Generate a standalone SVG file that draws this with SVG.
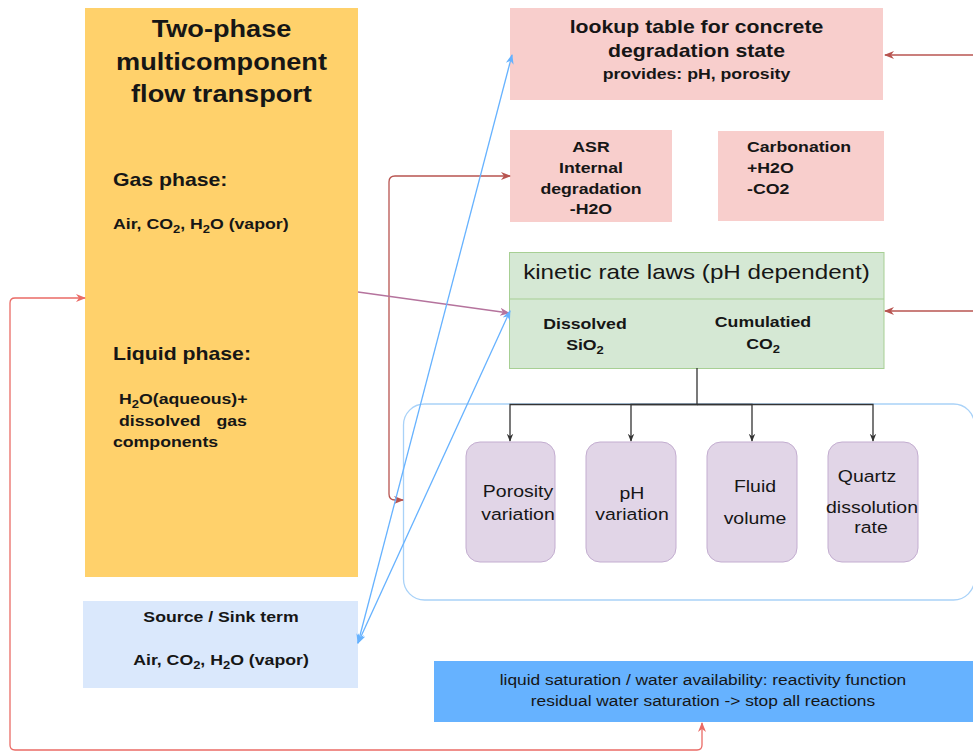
<svg xmlns="http://www.w3.org/2000/svg" width="973" height="751" viewBox="0 0 973 751">
<style>
text{font-family:"Liberation Sans",Arial,sans-serif;fill:#161616}
.b{font-weight:bold}
.m{text-anchor:middle}
.ln{fill:none;stroke-width:1.3}
</style>
<defs>
<marker id="aR" viewBox="0 0 10 10" refX="9" refY="5" markerWidth="10" markerHeight="10" orient="auto-start-reverse" markerUnits="userSpaceOnUse"><path d="M0,1 L10,5 L0,9 L3,5 Z" fill="#B85450"/></marker>
<marker id="aL" viewBox="0 0 10 10" refX="9" refY="5" markerWidth="10" markerHeight="10" orient="auto-start-reverse" markerUnits="userSpaceOnUse"><path d="M0,1 L10,5 L0,9 L3,5 Z" fill="#EA6B66"/></marker>
<marker id="aB" viewBox="0 0 10 10" refX="9" refY="5" markerWidth="10" markerHeight="10" orient="auto-start-reverse" markerUnits="userSpaceOnUse"><path d="M0,1 L10,5 L0,9 L3,5 Z" fill="#66B2FF"/></marker>
<marker id="aP" viewBox="0 0 10 10" refX="9" refY="5" markerWidth="10" markerHeight="10" orient="auto-start-reverse" markerUnits="userSpaceOnUse"><path d="M0,1 L10,5 L0,9 L3,5 Z" fill="#B5739D"/></marker>
<marker id="aK" viewBox="0 0 10 10" refX="9" refY="5" markerWidth="8" markerHeight="8" orient="auto" markerUnits="userSpaceOnUse"><path d="M0,1 L10,5 L0,9 L3,5 Z" fill="#333"/></marker>
</defs>

<g id="flow">
<rect x="85" y="8" width="273" height="569" fill="#FFD16B"/>
<text class="b m" font-size="23" x="221.5" y="37" transform="matrix(1.18 0 0 1 -39.87 0)">Two-phase</text>
<text class="b m" font-size="23" x="221.5" y="70" transform="matrix(1.18 0 0 1 -39.87 0)">multicomponent</text>
<text class="b m" font-size="23" x="221.5" y="102" transform="matrix(1.18 0 0 1 -39.87 0)">flow transport</text>
<text class="b" font-size="18" x="113" y="186" transform="matrix(1.18 0 0 1 -20.34 0)">Gas phase:</text>
<text class="b" font-size="15" x="113" y="229" transform="matrix(1.18 0 0 1 -20.34 0)">Air, CO<tspan font-size="11" dy="4">2</tspan><tspan dy="-4">, H</tspan><tspan font-size="11" dy="4">2</tspan><tspan dy="-4">O (vapor)</tspan></text>
<text class="b" font-size="18" x="113" y="360" transform="matrix(1.18 0 0 1 -20.34 0)">Liquid phase:</text>
<text class="b" font-size="15" x="119" y="404" transform="matrix(1.18 0 0 1 -21.42 0)">H<tspan font-size="11" dy="4">2</tspan><tspan dy="-4">O(aqueous)+</tspan></text>
<text class="b" font-size="15" x="119" y="426" transform="matrix(1.18 0 0 1 -21.42 0)">dissolved <tspan x="201.6">gas</tspan></text>
<text class="b" font-size="15" x="113" y="447" transform="matrix(1.18 0 0 1 -20.34 0)">components</text>
</g>

<g id="source">
<rect x="83" y="601" width="275" height="87" fill="#DAE8FC"/>
<text class="b m" font-size="15" x="221" y="622" transform="matrix(1.18 0 0 1 -39.78 0)">Source / Sink term</text>
<text class="b m" font-size="15" x="221" y="665" transform="matrix(1.18 0 0 1 -39.78 0)">Air, CO<tspan font-size="11" dy="4">2</tspan><tspan dy="-4">, H</tspan><tspan font-size="11" dy="4">2</tspan><tspan dy="-4">O (vapor)</tspan></text>
</g>

<g id="lookup">
<rect x="510" y="8" width="373" height="92" fill="#F8CECC"/>
<text class="b m" font-size="18" x="696.5" y="33" transform="matrix(1.18 0 0 1 -125.37 0)">lookup table for concrete</text>
<text class="b m" font-size="18" x="696.5" y="57" transform="matrix(1.18 0 0 1 -125.37 0)">degradation state</text>
<text class="b m" font-size="15" x="696.5" y="79" transform="matrix(1.18 0 0 1 -125.37 0)">provides: pH, porosity</text>
</g>

<g id="asr">
<rect x="510" y="130" width="162" height="92" fill="#F8CECC"/>
<text class="b m" font-size="15" x="591" y="152" transform="matrix(1.18 0 0 1 -106.38 0)">ASR</text>
<text class="b m" font-size="15" x="591" y="173" transform="matrix(1.18 0 0 1 -106.38 0)">Internal</text>
<text class="b m" font-size="15" x="591" y="194" transform="matrix(1.18 0 0 1 -106.38 0)">degradation</text>
<text class="b m" font-size="15" x="591" y="214" transform="matrix(1.18 0 0 1 -106.38 0)">-H2O</text>
</g>

<g id="carbonation">
<rect x="718" y="131" width="166" height="90" fill="#F8CECC"/>
<text class="b" font-size="15" x="747" y="152" transform="matrix(1.18 0 0 1 -134.46 0)">Carbonation</text>
<text class="b" font-size="15" x="747" y="173" transform="matrix(1.18 0 0 1 -134.46 0)">+H2O</text>
<text class="b" font-size="15" x="747" y="194" transform="matrix(1.18 0 0 1 -134.46 0)">-CO2</text>
</g>

<g id="kinetic">
<rect x="509.5" y="252.5" width="374.5" height="116" fill="#D5E8D4" stroke="#A7CF94"/>
<line x1="509.5" y1="299" x2="884" y2="299" stroke="#A7CF94"/>
<text class="m" font-size="20.5" x="696.5" y="279" transform="matrix(1.18 0 0 1 -125.37 0)">kinetic rate laws (pH dependent)</text>
<text class="b m" font-size="15" x="585" y="329" transform="matrix(1.18 0 0 1 -105.3 0)">Dissolved</text>
<text class="b m" font-size="15" x="585" y="350" transform="matrix(1.18 0 0 1 -105.3 0)">SiO<tspan font-size="11" dy="4">2</tspan></text>
<text class="b m" font-size="15" x="763" y="327" transform="matrix(1.18 0 0 1 -137.34 0)">Cumulatied</text>
<text class="b m" font-size="15" x="763" y="349" transform="matrix(1.18 0 0 1 -137.34 0)">CO<tspan font-size="11" dy="4">2</tspan></text>
</g>

<g id="container">
<rect x="403.5" y="404" width="571" height="196" rx="21" fill="none" stroke="#A9D2F8" stroke-width="1.3"/>
</g>

<g id="porosity">
<rect x="466" y="442" width="89" height="120" rx="14" fill="#E1D5E7" stroke="#C3ADD0"/>
<text class="m" font-size="16.5" x="518" y="497" transform="matrix(1.18 0 0 1 -93.24 0)">Porosity</text>
<text class="m" font-size="16.5" x="518" y="520" transform="matrix(1.18 0 0 1 -93.24 0)">variation</text>
</g>
<g id="ph">
<rect x="586" y="442" width="90" height="120" rx="14" fill="#E1D5E7" stroke="#C3ADD0"/>
<text class="m" font-size="16.5" x="632" y="499" transform="matrix(1.18 0 0 1 -113.76 0)">pH</text>
<text class="m" font-size="16.5" x="632" y="520" transform="matrix(1.18 0 0 1 -113.76 0)">variation</text>
</g>
<g id="fluid">
<rect x="707" y="442" width="90" height="120" rx="14" fill="#E1D5E7" stroke="#C3ADD0"/>
<text class="m" font-size="16.5" x="755" y="492" transform="matrix(1.18 0 0 1 -135.9 0)">Fluid</text>
<text class="m" font-size="16.5" x="755" y="524" transform="matrix(1.18 0 0 1 -135.9 0)">volume</text>
</g>
<g id="quartz">
<rect x="828" y="442" width="90" height="120" rx="14" fill="#E1D5E7" stroke="#C3ADD0"/>
<text class="m" font-size="16.5" x="867" y="482" transform="matrix(1.18 0 0 1 -156.06 0)">Quartz</text>
<text class="m" font-size="16.5" x="872" y="513" transform="matrix(1.18 0 0 1 -156.96 0)">dissolution</text>
<text class="m" font-size="16.5" x="871" y="533" transform="matrix(1.18 0 0 1 -156.78 0)">rate</text>
</g>

<g id="saturation">
<rect x="434" y="661" width="539" height="61" fill="#66B2FF"/>
<text class="m" font-size="14.7" x="703" y="685" transform="matrix(1.18 0 0 1 -126.54 0)">liquid saturation / water availability: reactivity function</text>
<text class="m" font-size="14.7" x="703" y="706" transform="matrix(1.18 0 0 1 -126.54 0)">residual water saturation -&gt; stop all reactions</text>
</g>

<g id="connectors">
<path class="ln" stroke="#B85450" d="M973,55 H885" marker-end="url(#aR)"/>
<path class="ln" stroke="#B85450" d="M973,311 H885" marker-end="url(#aR)"/>
<path class="ln" stroke="#B85450" d="M403,500 H395 Q389,500 389,494 V182 Q389,176 395,176 H510" marker-start="url(#aR)" marker-end="url(#aR)"/>
<path class="ln" stroke="#B5739D" d="M358,292 L509,313" marker-end="url(#aP)"/>
<path class="ln" stroke="#66B2FF" d="M358,643 L512,55" marker-start="url(#aB)" marker-end="url(#aB)"/>
<path class="ln" stroke="#66B2FF" d="M358,643 L510,311" marker-start="url(#aB)" marker-end="url(#aB)"/>
<path class="ln" stroke="#EA6B66" d="M702,723 V745 Q702,750 697,750 H15 Q10,750 10,745 V303 Q10,298 15,298 H85" marker-start="url(#aL)" marker-end="url(#aL)"/>
<path class="ln" stroke="#333" d="M697,368 V404.5 H510 V441" marker-end="url(#aK)"/>
<path class="ln" stroke="#333" d="M697,404.5 H631 V441" marker-end="url(#aK)"/>
<path class="ln" stroke="#333" d="M697,404.5 H752 V441" marker-end="url(#aK)"/>
<path class="ln" stroke="#333" d="M697,404.5 H873 V441" marker-end="url(#aK)"/>
</g>
</svg>
